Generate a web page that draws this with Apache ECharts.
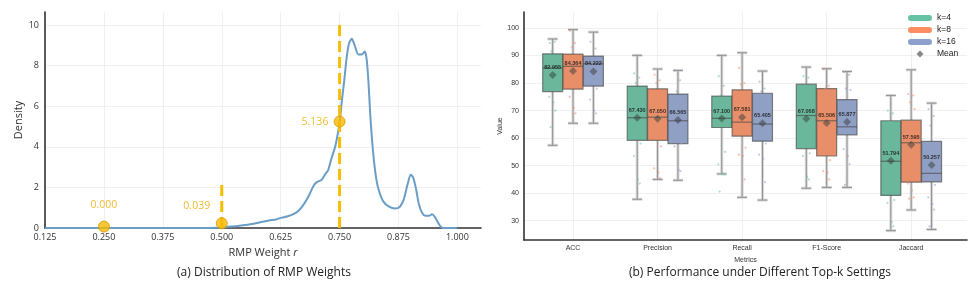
<!DOCTYPE html>
<html><head><meta charset="utf-8">
<script src="https://cdn.jsdelivr.net/npm/echarts@6/dist/echarts.min.js"></script>
<style>html,body{margin:0;padding:0;background:#fff}#c{width:977px;height:286px}</style>
</head><body><div id="c"></div>
<script>
// ---------- Panel (a): density of RMP weights ----------
const kdeX = [0.125, 0.30, 0.45, 0.49, 0.50, 0.52, 0.55, 0.575, 0.60, 0.615, 0.625, 0.64, 0.655, 0.665, 0.675, 0.685, 0.694, 0.701, 0.712, 0.719, 0.726, 0.733, 0.7405, 0.745, 0.75, 0.755, 0.76, 0.765, 0.77, 0.776, 0.782, 0.79, 0.797, 0.803, 0.807, 0.811, 0.815, 0.819, 0.823, 0.828, 0.834, 0.843, 0.855, 0.868, 0.878, 0.886, 0.894, 0.901, 0.906, 0.912, 0.918, 0.925, 0.932, 0.94, 0.946, 0.952, 0.958, 0.964, 0.97, 1.0];
const kdeY = [0.0, 0.0, 0.0, 0.01, 0.03, 0.07, 0.15, 0.25, 0.37, 0.42, 0.50, 0.58, 0.72, 0.9, 1.2, 1.6, 2.05, 2.25, 2.38, 2.63, 2.87, 3.45, 4.0, 4.5, 5.2, 6.3, 7.3, 8.4, 9.1, 9.33, 9.0, 8.55, 8.55, 8.7, 8.4, 7.3, 5.6, 4.3, 3.3, 2.4, 1.8, 1.3, 1.05, 0.96, 1.05, 1.4, 2.13, 2.62, 2.5, 1.95, 1.2, 0.75, 0.6, 0.6, 0.68, 0.55, 0.3, 0.08, 0.0, 0.0];
const markerX = [0.25, 0.5, 0.75];
const markerY = [0.07, 0.23, 5.25];
const markerLabels = ['0.000', '0.039', '5.136'];
const vlineX = [0.5, 0.75];
const vlineTop = [2.2, 10.05];
const xTicksA = [0.125, 0.25, 0.375, 0.5, 0.625, 0.75, 0.875, 1.0];
const yTicksA = [0, 2, 4, 6, 8, 10];

// ---------- Panel (b): performance under top-k ----------
const metrics = ['ACC', 'Precision', 'Recall', 'F1-Score', 'Jaccard'];
const groups = ['k=4', 'k=8', 'k=16'];
// [min, q1, median, q3, max]
const k4Box  = [[57.4, 76.9, 85.5, 90.6, 96.0], [37.8, 59.2, 67.4, 78.9, 90.05], [47.0, 63.85, 67.2, 75.25, 90.05], [41.8, 56.2, 68.2, 79.6, 85.8], [26.4, 39.2, 51.6, 66.3, 75.5]];
const k8Box  = [[65.4, 77.8, 86.1, 90.5, 99.4], [45.0, 59.2, 67.6, 77.9, 85.1], [38.5, 60.7, 65.8, 77.55, 91.0], [42.1, 53.5, 66.3, 78.0, 85.2], [33.9, 44.0, 58.3, 66.5, 84.8]];
const k16Box = [[65.4, 78.9, 87.0, 89.8, 98.5], [44.7, 58.0, 66.3, 76.0, 84.6], [37.5, 58.9, 65.1, 76.3, 84.35], [42.1, 61.2, 64.1, 74.0, 84.2], [26.85, 44.1, 47.2, 58.8, 72.7]];
const k4Mean  = [82.955, 67.430, 67.100, 67.068, 51.794];
const k8Mean  = [84.364, 67.050, 67.581, 65.506, 57.595];
const k16Mean = [84.222, 66.565, 65.405, 65.877, 50.257];
const k4Pts  = [[94.5, 95, 91.5, 87, 75, 73, 70, 64], [83.5, 82, 80, 58, 53.5, 45, 43.5], [82.5, 79, 75.5, 55, 50.5, 47, 46.8, 40.6], [82.5, 82, 79, 54.5, 53.5, 46, 45], [70, 69, 66, 37.5, 36.5, 29.5, 28]];
const k8Pts  = [[99, 94.5, 93, 85, 75, 71, 69], [83, 81, 80, 57, 49, 47.5, 45.5], [85.5, 80, 79.5, 56.5, 54, 53.5, 45], [85, 79, 78, 52, 48, 47.5, 45], [76, 75.5, 73, 70.5, 43.5, 41, 38.5, 38]];
const k16Pts = [[95, 92.5, 87, 78, 74, 70, 69], [84.5, 81, 77, 58, 57, 48.5, 48], [80.5, 78, 77, 58, 54, 52.5, 44], [84, 83, 78, 77.5, 56, 53.5, 50.5, 43], [70.5, 68, 64.5, 43, 38.5, 36, 34, 28]];
const yTicksB = [30, 40, 50, 60, 70, 80, 90, 100];

// ---------- styles ----------
const FONT_A = 'Open Sans';
const FONT_B = 'Liberation Sans, Arial';
const GOLD = '#f5bd00';
const BOX_FILL = ['#6ab79b', '#e88f6a', '#909fc4'];
const LEG_FILL = ['#66c2a5', '#fc8d62', '#8da0cb'];
const OFFS = [-0.241, 0, 0.241];
const BOX_W = 0.236;
const JIT = [-0.035, 0.025, -0.015, 0.04, -0.04, 0.01, 0.03, -0.025];
const PILL = 'path://M3,0L21,0A3,3,0,0,1,21,6L3,6A3,3,0,0,1,3,0Z';
const DIAM = 'path://M5,0L10,5L5,10L0,5Z';

const boxes = [k4Box, k8Box, k16Box];
const means = [k4Mean, k8Mean, k16Mean];
const pts = [k4Pts, k8Pts, k16Pts];

function boxRender(g) {
  return function (params, api) {
    const x = api.value(0) + OFFS[g];
    const mn = api.value(1), q1 = api.value(2), md = api.value(3), q3 = api.value(4), mx = api.value(5);
    const tl = api.coord([x - BOX_W / 2, q3]);
    const br = api.coord([x + BOX_W / 2, q1]);
    const cMd = api.coord([x, md]);
    const cMx = api.coord([x, mx]);
    const cMn = api.coord([x, mn]);
    const w = br[0] - tl[0];
    const cap = w / 4;
    const halo = { stroke: '#d9d9d9', lineWidth: 3 };
    const wl = { stroke: '#909090', lineWidth: 1 };
    const edge = 'rgba(70,70,70,0.65)';
    return {
      type: 'group',
      children: [
        { type: 'line', shape: { x1: cMx[0], y1: cMx[1], x2: cMx[0], y2: tl[1] }, style: halo },
        { type: 'line', shape: { x1: cMn[0], y1: br[1], x2: cMn[0], y2: cMn[1] }, style: halo },
        { type: 'line', shape: { x1: cMx[0] - cap, y1: cMx[1], x2: cMx[0] + cap, y2: cMx[1] }, style: halo },
        { type: 'line', shape: { x1: cMn[0] - cap, y1: cMn[1], x2: cMn[0] + cap, y2: cMn[1] }, style: halo },
        { type: 'line', shape: { x1: cMx[0], y1: cMx[1], x2: cMx[0], y2: tl[1] }, style: wl },
        { type: 'line', shape: { x1: cMn[0], y1: br[1], x2: cMn[0], y2: cMn[1] }, style: wl },
        { type: 'line', shape: { x1: cMx[0] - cap, y1: cMx[1], x2: cMx[0] + cap, y2: cMx[1] }, style: wl },
        { type: 'line', shape: { x1: cMn[0] - cap, y1: cMn[1], x2: cMn[0] + cap, y2: cMn[1] }, style: wl },
        { type: 'rect', shape: { x: tl[0], y: tl[1], width: w, height: br[1] - tl[1] }, style: { fill: BOX_FILL[g], stroke: edge, lineWidth: 1.2 } },
        { type: 'line', shape: { x1: tl[0], y1: cMd[1], x2: br[0], y2: cMd[1] }, style: { stroke: edge, lineWidth: 1.2 } }
      ]
    };
  };
}

const series = [];
// Panel (a)
series.push({
  type: 'line', xAxisIndex: 0, yAxisIndex: 0, data: kdeX.map((x, i) => [x, kdeY[i]]),
  showSymbol: false, smooth: 0.25, lineStyle: { color: '#6b9ec6', width: 2 }, z: 3, silent: true
});
vlineX.forEach((x, i) => {
  series.push({
    type: 'line', xAxisIndex: 0, yAxisIndex: 0, data: [[x, 0], [x, vlineTop[i]]],
    showSymbol: false, lineStyle: { color: GOLD, width: 3, type: [11, 5] }, z: 4, silent: true
  });
});
const MLBL = [[0, -21.5], [-25, -17.6], [-24.6, 0]];
series.push({
  type: 'scatter', xAxisIndex: 0, yAxisIndex: 0, symbolSize: 11, z: 6,
  itemStyle: { color: '#f7b900', borderColor: '#d49a00', borderWidth: 1 },
  data: markerX.map((x, i) => ({
    value: [x, markerY[i]],
    label: { show: true, position: 'inside', offset: MLBL[i], formatter: markerLabels[i], color: '#e8ac00', fontSize: 10.5, fontFamily: FONT_A }
  }))
});
// Panel (b)
groups.forEach((name, g) => {
  series.push({
    type: 'custom', name: name, xAxisIndex: 1, yAxisIndex: 1,
    renderItem: boxRender(g), itemStyle: { color: LEG_FILL[g] },
    encode: { x: 0, y: [1, 2, 3, 4, 5] },
    data: metrics.map((m, i) => [i].concat(boxes[g][i])), z: 2
  });
});
groups.forEach((name, g) => {
  const d = [];
  metrics.forEach((m, i) => pts[g][i].forEach((v, j) => d.push([i + OFFS[g] + JIT[j % JIT.length], v])));
  series.push({
    type: 'scatter', xAxisIndex: 1, yAxisIndex: 1, symbolSize: 2.2, z: 3, silent: true,
    itemStyle: { color: LEG_FILL[g], opacity: 0.55 }, data: d
  });
});
const meanData = [];
groups.forEach((name, g) => metrics.forEach((m, i) => meanData.push([i + OFFS[g], means[g][i]])));
series.push({
  type: 'scatter', name: 'Mean', xAxisIndex: 1, yAxisIndex: 1, symbol: 'diamond', symbolSize: 8, z: 5,
  itemStyle: { color: 'rgba(55,60,60,0.62)' },
  label: { show: true, position: 'top', distance: 0.5, formatter: p => p.value[1].toFixed(3), color: '#111', fontSize: 5.5, fontWeight: 'bold', fontFamily: FONT_B },
  data: meanData
});

const axisLineStyle = { show: true, onZero: false, lineStyle: { color: '#333', width: 1.6 } };
const splitStyle = { show: true, lineStyle: { color: '#ececec', width: 0.8 } };

const option = {
  animation: false,
  backgroundColor: '#fff',
  grid: [
    { left: 45, top: 12, width: 436, height: 216 },
    { left: 524, top: 12, width: 443, height: 228 }
  ],
  xAxis: [
    {
      type: 'value', gridIndex: 0, min: 0.125, max: 1.05,
      axisLine: axisLineStyle, axisTick: { show: false, customValues: xTicksA },
      axisLabel: { customValues: xTicksA, formatter: v => v.toFixed(3), color: '#333', fontSize: 9, fontFamily: FONT_A, margin: 5 },
      splitLine: splitStyle,
      name: 'RMP Weight {i|r}', nameLocation: 'middle', nameGap: 17,
      nameTextStyle: { color: '#333', fontSize: 11, fontFamily: FONT_A, rich: { i: { fontStyle: 'italic', fontSize: 11, fontFamily: FONT_A, color: '#333' } } }
    },
    {
      type: 'value', gridIndex: 1, min: -0.58, max: 4.66,
      axisLine: axisLineStyle, axisTick: { show: false, customValues: [0, 1, 2, 3, 4] },
      axisLabel: { customValues: [0, 1, 2, 3, 4], formatter: v => metrics[Math.round(v)], color: '#333', fontSize: 7, fontFamily: FONT_B, margin: 5 },
      splitLine: splitStyle,
      name: 'Metrics', nameLocation: 'middle', nameGap: 13,
      nameTextStyle: { color: '#333', fontSize: 7, fontFamily: FONT_B }
    }
  ],
  yAxis: [
    {
      type: 'value', gridIndex: 0, min: 0, max: 10.65,
      axisLine: axisLineStyle, axisTick: { show: false, customValues: yTicksA },
      axisLabel: { customValues: yTicksA, color: '#333', fontSize: 9, fontFamily: FONT_A, margin: 6 },
      splitLine: splitStyle,
      name: 'Density', nameLocation: 'middle', nameGap: 18, nameRotate: 90,
      nameTextStyle: { color: '#333', fontSize: 11, fontFamily: FONT_A }
    },
    {
      type: 'value', gridIndex: 1, min: 23, max: 105.8,
      axisLine: axisLineStyle, axisTick: { show: false, customValues: yTicksB },
      axisLabel: { customValues: yTicksB, color: '#333', fontSize: 7, fontFamily: FONT_B, margin: 5 },
      splitLine: splitStyle,
      name: 'Value', nameLocation: 'middle', nameGap: 18, nameRotate: 90,
      nameTextStyle: { color: '#333', fontSize: 7, fontFamily: FONT_B }
    }
  ],
  legend: {
    orient: 'vertical', left: 908, top: 13.5, padding: 0, itemWidth: 24, itemHeight: 7, itemGap: 3,
    symbolKeepAspect: true, selectedMode: false,
    textStyle: { fontSize: 8.5, color: '#222', fontFamily: FONT_B, lineHeight: 8.7 },
    data: [
      { name: 'k=4', icon: PILL, itemStyle: { color: LEG_FILL[0], borderWidth: 0 } },
      { name: 'k=8', icon: PILL, itemStyle: { color: LEG_FILL[1], borderWidth: 0 } },
      { name: 'k=16', icon: PILL, itemStyle: { color: LEG_FILL[2], borderWidth: 0 } },
      { name: 'Mean', icon: DIAM, itemStyle: { color: '#6a6a6a', borderWidth: 0 } }
    ]
  },
  graphic: [
    { type: 'text', x: 264, y: 273, style: { text: '(a) Distribution of RMP Weights', align: 'center', verticalAlign: 'middle', fontSize: 12, fontFamily: FONT_A, fill: '#222' } },
    { type: 'text', x: 760, y: 273, style: { text: '(b) Performance under Different Top-k Settings', align: 'center', verticalAlign: 'middle', fontSize: 12, fontFamily: FONT_A, fill: '#222' } }
  ],
  series: series
};
const chart = echarts.init(document.getElementById('c'), null, { renderer: 'canvas' });
chart.setOption(option);
</script></body></html>
